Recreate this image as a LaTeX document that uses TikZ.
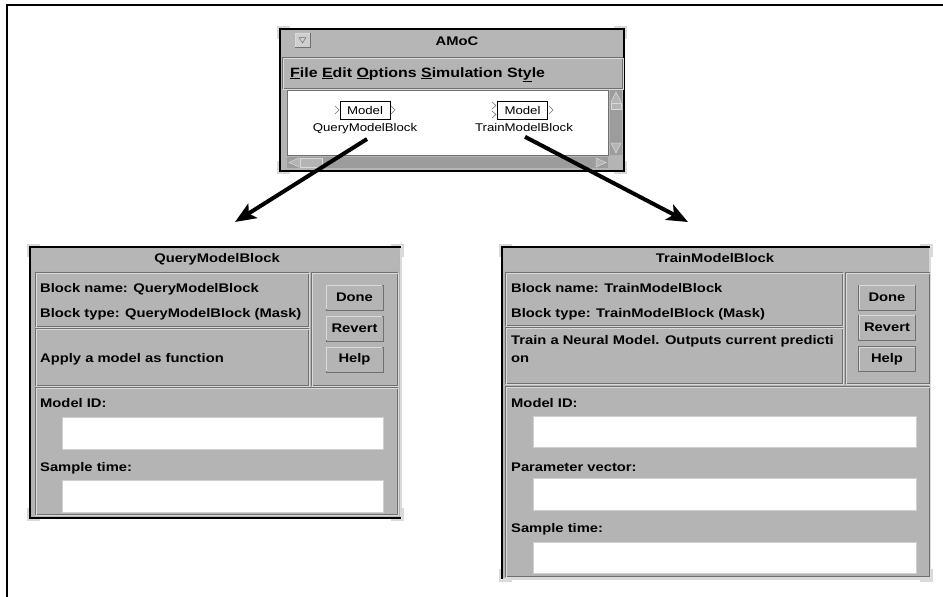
\documentclass[tikz,border=0pt]{standalone}
\usepackage{fontspec}
\setmainfont{Liberation Sans}[FakeStretch=1.18]
\usetikzlibrary{arrows.meta,calc}
\definecolor{wgray}{HTML}{B4B4B4}
\definecolor{tgray}{HTML}{B6B6B6}
\definecolor{dgray}{HTML}{707070}
\definecolor{lgray}{HTML}{DADADA}
\definecolor{sgray}{HTML}{9C9C9C}
\definecolor{fgray}{HTML}{CFCFCF}
\newcommand\etchbox[4]{%
  \draw[dgray,line width=0.8pt] (#1,#2) rectangle (#3,#4);
  \draw[lgray,line width=0.6pt] (#1+1,#2+1) rectangle (#3+1,#4+1);}
\newcommand\fieldbox[4]{%
  \fill[white] (#1,#2) rectangle (#3,#4);
  \draw[fgray,line width=1pt] (#1,#2) rectangle (#3,#4);}
\newcommand\cornermarks[4]{%
  \draw[lgray,line width=1.4pt] (#1-1,#2+11) -- (#1-1,#2-1) -- (#1+11,#2-1);
  \draw[lgray,line width=1.4pt] (#3-11,#2-1) -- (#3+1,#2-1) -- (#3+1,#2+11);
  \draw[lgray,line width=1.4pt] (#1-1,#4-11) -- (#1-1,#4+1) -- (#1+11,#4+1);
  \draw[lgray,line width=1.4pt] (#3-11,#4+1) -- (#3+1,#4+1) -- (#3+1,#4-11);}
\begin{document}
\begin{tikzpicture}[x=1pt,y=-1pt,
  lbl/.style={anchor=base west,inner sep=0pt,font=\bfseries\fontsize{12.5}{15}\selectfont},
  ttl/.style={anchor=base,inner sep=0pt,font=\bfseries\fontsize{12.5}{15}\selectfont},
  menu/.style={anchor=base west,inner sep=0pt,font=\bfseries\fontsize{13.5}{16}\selectfont},
  btnbox/.style={draw=dgray,line width=0.8pt,fill=wgray,minimum width=57pt,minimum height=25pt,inner sep=0pt,font=\bfseries\fontsize{12.5}{15}\selectfont},
  mbox/.style={draw=black,line width=0.6pt,fill=white,minimum width=50pt,minimum height=18pt,inner sep=0pt,font=\fontsize{11.2}{13}\selectfont},
  mlabel/.style={anchor=base,inner sep=0pt,font=\fontsize{11.2}{13}\selectfont},
  port/.style={draw=dgray,line width=0.6pt},
  bigarrow/.style={line width=4pt,-{Stealth[length=21pt,width=17pt,inset=5pt]}}
]
\useasboundingbox (0,0) rectangle (943,597);
\fill[white] (0,0) rectangle (943,597);
% outer frame
\draw[line width=1.5pt] (7,597) -- (7,5) -- (943,5);

% ================= AMoC window =================
\fill[wgray] (280,29) rectangle (624,171);
\draw[black,line width=1.8pt] (280,29) rectangle (624,171);
\cornermarks{279}{28}{625}{172}
\fill[tgray] (282,31) rectangle (622,57);
\node[ttl] (amoc) at (457,45.5) {AMoC};
\draw[dgray,line width=0.6pt,fill=fgray] (295,33) rectangle (310,47);
\draw[lgray,line width=0.6pt] (295.5,46.5) -- (295.5,33.5) -- (309.5,33.5);
\draw[dgray,line width=0.5pt] (299,37.5) -- (306,37.5) -- (302.5,43) -- cycle;
\etchbox{282}{57}{622}{88}
\node[menu] (menubar) at (290,77) {\underline{F}ile \underline{E}dit \underline{O}ptions \underline{S}imulation St\underline{y}le};
% canvas
\fill[white] (287,90) rectangle (608,155);
\draw[dgray,line width=0.6pt] (287,90) rectangle (608,155);
% vertical scrollbar
\fill[sgray] (610,90) rectangle (622,155);
\draw[lgray,line width=0.5pt,fill=wgray] (611,102) -- (616,92) -- (621,102) -- cycle;
\draw[lgray,line width=0.5pt,fill=wgray] (611,103) rectangle (621,109);
\draw[lgray,line width=0.5pt,fill=wgray] (611,143) -- (616,153) -- (621,143) -- cycle;
% horizontal scrollbar
\fill[sgray] (287,157) rectangle (608,168);
\draw[lgray,line width=0.5pt,fill=wgray] (299,158) -- (289,162.5) -- (299,167) -- cycle;
\draw[lgray,line width=0.5pt,fill=wgray] (300,158) rectangle (322,167);
\draw[lgray,line width=0.5pt,fill=wgray] (596,158) -- (606,162.5) -- (596,167) -- cycle;

% model blocks
\node[mbox] (m1) at (365,110) {Model};
\node[mlabel] (q1) at (365,131) {QueryModelBlock};
\draw[port] (335,106) -- (339,110) -- (335,114);
\draw[port] (391,106) -- (395,110) -- (391,114);
\node[mbox] (m2) at (522.5,110) {Model};
\node[mlabel] (t1) at (524,131) {TrainModelBlock};
\draw[port] (492,102) -- (496,105.5) -- (492,109);
\draw[port] (492,111) -- (496,114.5) -- (492,118);
\draw[port] (549,106) -- (553,110) -- (549,114);

% arrows
\coordinate (tip1) at (235,222);
\coordinate (tip2) at (688,222);
\draw[bigarrow] ([xshift=2pt,yshift=-5.5pt]q1.south) -- (tip1);
\draw[bigarrow] ([xshift=1pt,yshift=-5.5pt]t1.south) -- (tip2);

% ================= QueryModelBlock dialog =================
\fill[wgray] (30,247) rectangle (401,518);
\draw[lgray,line width=1.4pt] (401,247) -- (401,518);
\draw[black,line width=1.8pt] (401,247) -- (30,247) -- (30,518) -- (401,518);
\cornermarks{29}{246}{402}{519}
\fill[tgray] (32,249) rectangle (399,270);
\node[ttl] (d1t) at (217,262.5) {QueryModelBlock};
\etchbox{35}{272}{308}{326}
\etchbox{35}{328}{308}{385}
\etchbox{311}{272}{397}{385}
\etchbox{35}{387}{397}{514}
\node[lbl] (d1n) at (40,292) {Block name: QueryModelBlock};
\node[lbl] (d1y) at (40,317) {Block type: QueryModelBlock (Mask)};
\node[lbl] (d1d) at (40,362.5) {Apply a model as function};
\node[btnbox] (d1b1) at (354.5,297.5) {Done};
\node[btnbox] (d1b2) at (354.5,328.5) {Revert};
\node[btnbox] (d1b3) at (354.5,359.5) {Help};
\foreach \b in {d1b1,d1b2,d1b3}
  \draw[lgray,line width=0.7pt] ([shift={(1,-1)}]\b.south west) -- ([shift={(1,1)}]\b.north west) -- ([shift={(-1,1)}]\b.north east);
\node[lbl] (d1m) at (40,407.5) {Model ID:};
\fieldbox{62}{417}{383}{449}
\node[lbl] (d1s) at (40,471.5) {Sample time:};
\fieldbox{62}{480}{383}{512}

% ================= TrainModelBlock dialog =================
\fill[wgray] (502,247) rectangle (930,579);
\draw[lgray,line width=1.4pt] (930,247) -- (930,579) -- (502,579);
\draw[black,line width=1.8pt] (930,247) -- (502,247) -- (502,579);
\cornermarks{501}{246}{931}{580}
\fill[tgray] (504,249) rectangle (928,270);
\node[ttl] (d2t) at (715,262.5) {TrainModelBlock};
\etchbox{505}{272}{842}{325}
\etchbox{505}{327}{842}{383}
\etchbox{845}{272}{929}{383}
\etchbox{505}{386}{929}{576}
\node[lbl] (d2n) at (511,292) {Block name: TrainModelBlock};
\node[lbl] (d2y) at (511,317) {Block type: TrainModelBlock (Mask)};
\node[lbl] (d2d1) at (511,344.5) {Train a Neural Model. Outputs current predicti};
\node[lbl] (d2d2) at (511,362.5) {on};
\node[btnbox] (d2b1) at (887,297.5) {Done};
\node[btnbox] (d2b2) at (887,327.5) {Revert};
\node[btnbox] (d2b3) at (887,359) {Help};
\foreach \b in {d2b1,d2b2,d2b3}
  \draw[lgray,line width=0.7pt] ([shift={(1,-1)}]\b.south west) -- ([shift={(1,1)}]\b.north west) -- ([shift={(-1,1)}]\b.north east);
\node[lbl] (d2m) at (511,407.5) {Model ID:};
\fieldbox{533}{416}{916}{447}
\node[lbl] (d2p) at (511,471.5) {Parameter vector:};
\fieldbox{533}{478}{916}{510}
\node[lbl] (d2s) at (511,532.5) {Sample time:};
\fieldbox{533}{542}{916}{573}
\end{tikzpicture}
\end{document}
